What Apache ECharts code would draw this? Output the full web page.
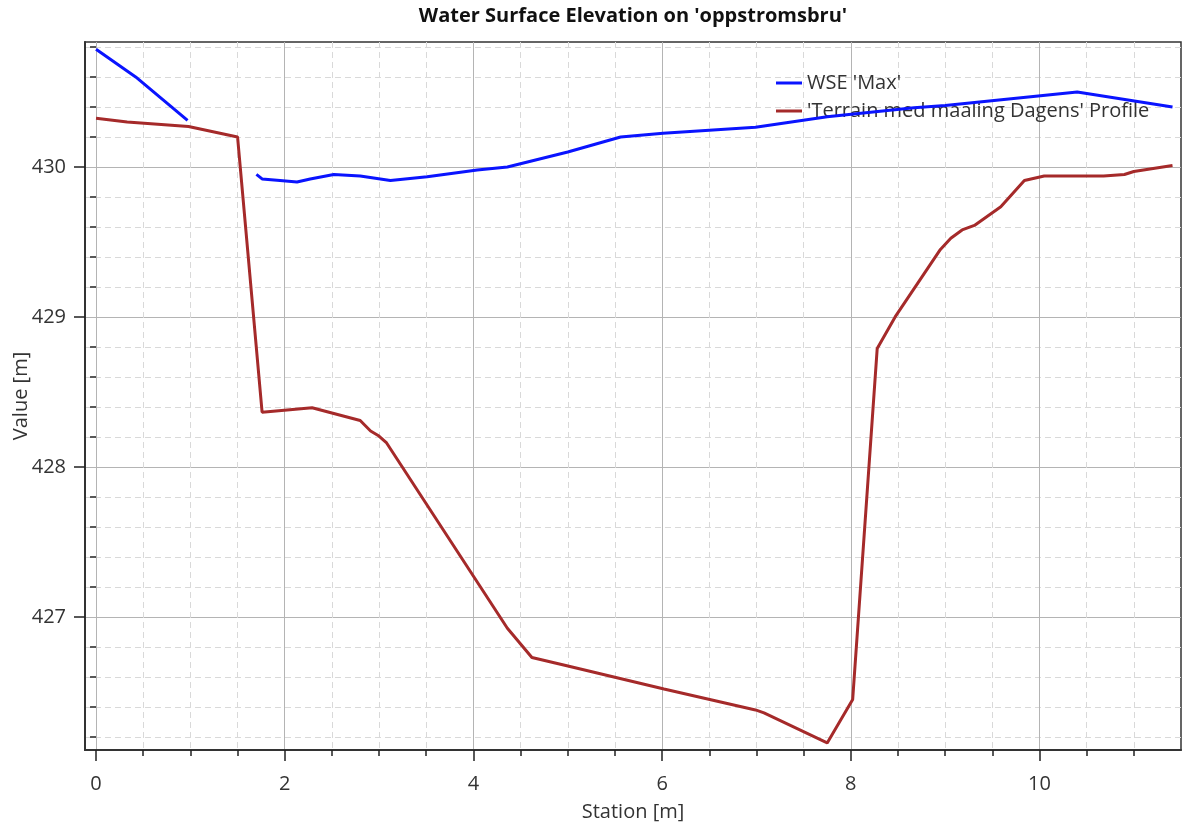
<!DOCTYPE html>
<html>
<head>
<meta charset="utf-8">
<script src="https://cdn.jsdelivr.net/npm/echarts@6/dist/echarts.min.js"></script>
<style>
  html, body { margin: 0; padding: 0; background: #ffffff; }
  #chart { width: 1186px; height: 825px; }
</style>
</head>
<body>
<div id="chart"></div>
<script>
// ---- data ----
const titleText = "Water Surface Elevation on 'oppstromsbru'";
const xAxisName = 'Station [m]';
const yAxisName = 'Value [m]';
const wseName = "WSE 'Max'";
const terrainName = "'Terrain med maaling Dagens' Profile";

const wseStation = [0.00, 0.42, 0.97, 1.30, 1.70, 1.76, 1.95, 2.13, 2.27, 2.52, 2.80, 3.12, 3.51, 4.04, 4.36, 5.00, 5.56, 6.01, 6.99, 7.75, 8.67, 9.00, 9.70, 10.40, 11.41];
const wseValue   = [430.785, 430.60, 430.31, null, 429.95, 429.92, 429.91, 429.90, 429.92, 429.95, 429.94, 429.91, 429.935, 429.98, 430.00, 430.10, 430.20, 430.225, 430.265, 430.335, 430.395, 430.41, 430.455, 430.50, 430.40];

const terrainStation = [0.00, 0.33, 0.98, 1.50, 1.76, 2.29, 2.80, 2.91, 2.99, 3.08, 4.36, 4.62, 4.99, 6.02, 6.99, 7.08, 7.75, 8.02, 8.28, 8.47, 8.95, 9.06, 9.18, 9.31, 9.59, 9.84, 10.05, 10.68, 10.90, 11.00, 11.41];
const terrainValue   = [430.325, 430.30, 430.27, 430.20, 428.365, 428.395, 428.31, 428.24, 428.21, 428.16, 426.925, 426.73, 426.675, 426.52, 426.38, 426.36, 426.16, 426.45, 428.79, 429.00, 429.45, 429.525, 429.58, 429.61, 429.735, 429.91, 429.94, 429.94, 429.95, 429.97, 430.01];

const xMajorTicks = [0, 2, 4, 6, 8, 10];
const xMinorTicks = [0.5, 1, 1.5, 2.5, 3, 3.5, 4.5, 5, 5.5, 6.5, 7, 7.5, 8.5, 9, 9.5, 10.5, 11];
const yMajorTicks = [427, 428, 429, 430];
const yMinorTicks = [426.2, 426.4, 426.6, 426.8, 427.2, 427.4, 427.6, 427.8, 428.2, 428.4, 428.6, 428.8, 429.2, 429.4, 429.6, 429.8, 430.2, 430.4, 430.6, 430.8];

const xRange = [-0.117, 11.5];
const yRange = [426.113, 430.833];

// ---- chart ----
const pairs = (xs, ys) => xs.map((x, i) => [x, ys[i]]);
const FONT = "'Open Sans', 'Noto Sans', sans-serif";
const FS = 20;
const chart = echarts.init(document.getElementById('chart'), null, { renderer: 'canvas' });

const minorAxisCommon = {
  type: 'value',
  axisLine: { show: false },
  axisLabel: { show: false },
  axisTick: { show: true, length: 6, lineStyle: { color: '#222', width: 1.5 } },
  splitLine: { show: true, lineStyle: { color: '#d9d9d9', type: [6, 4], width: 1 } }
};

chart.setOption({
  animation: false,
  backgroundColor: '#ffffff',
  textStyle: { fontFamily: FONT },
  title: {
    text: titleText,
    left: 633,
    top: 6,
    textAlign: 'center',
    padding: 0,
    textStyle: { fontFamily: FONT, fontSize: FS, fontWeight: 'bold', color: '#111' }
  },
  legend: {
    orient: 'vertical',
    left: 771,
    top: 68,
    itemWidth: 26,
    itemHeight: 3,
    itemGap: 8,
    icon: 'rect',
    textStyle: { fontFamily: FONT, fontSize: FS, color: '#333' },
    data: [wseName, terrainName]
  },
  grid: {
    left: 85, right: 5, top: 42, bottom: 75,
    containLabel: false,
    outerBoundsMode: 'none',
    show: true, borderColor: '#333', borderWidth: 1.5, backgroundColor: 'transparent'
  },
  xAxis: [
    {
      type: 'value',
      min: xRange[0], max: xRange[1],
      position: 'bottom',
      name: xAxisName,
      nameLocation: 'middle',
      nameGap: 52,
      nameMoveOverlap: false,
      nameTextStyle: { fontFamily: FONT, fontSize: FS, color: '#333' },
      axisLine: { show: true, onZero: false, lineStyle: { color: '#333', width: 2 } },
      axisTick: { show: true, length: 11, customValues: xMajorTicks, lineStyle: { color: '#222', width: 1.5 } },
      axisLabel: { show: true, customValues: xMajorTicks, margin: 24, fontFamily: FONT, fontSize: FS, color: '#333' },
      splitLine: { show: true, lineStyle: { color: '#b4b4b4', width: 1 } }
    },
    Object.assign({}, minorAxisCommon, {
      min: xRange[0], max: xRange[1], position: 'bottom', offset: 0,
      axisTick: Object.assign({}, minorAxisCommon.axisTick, { customValues: xMinorTicks })
    })
  ],
  yAxis: [
    {
      type: 'value',
      min: yRange[0], max: yRange[1],
      position: 'left',
      name: yAxisName,
      nameLocation: 'middle',
      nameGap: 54,
      nameMoveOverlap: false,
      nameTextStyle: { fontFamily: FONT, fontSize: FS, color: '#333' },
      axisLine: { show: true, onZero: false, lineStyle: { color: '#333', width: 2 } },
      axisTick: { show: true, length: 11, customValues: yMajorTicks, lineStyle: { color: '#222', width: 1.5 } },
      axisLabel: { show: true, customValues: yMajorTicks, margin: 19, fontFamily: FONT, fontSize: FS, color: '#333' },
      splitLine: { show: true, lineStyle: { color: '#b4b4b4', width: 1 } }
    },
    Object.assign({}, minorAxisCommon, {
      min: yRange[0], max: yRange[1], position: 'left', offset: 0,
      axisTick: Object.assign({}, minorAxisCommon.axisTick, { customValues: yMinorTicks })
    })
  ],
  series: [
    {
      name: wseName,
      type: 'line',
      xAxisIndex: 0, yAxisIndex: 0,
      data: pairs(wseStation, wseValue),
      connectNulls: false,
      showSymbol: false,
      symbol: 'none',
      color: '#0a14ff',
      lineStyle: { color: '#0a14ff', width: 3 },
      z: 5
    },
    {
      name: terrainName,
      type: 'line',
      xAxisIndex: 0, yAxisIndex: 0,
      data: pairs(terrainStation, terrainValue),
      showSymbol: false,
      symbol: 'none',
      color: '#a52a2a',
      lineStyle: { color: '#a52a2a', width: 3 },
      z: 4
    }
  ]
});
</script>
</body>
</html>
